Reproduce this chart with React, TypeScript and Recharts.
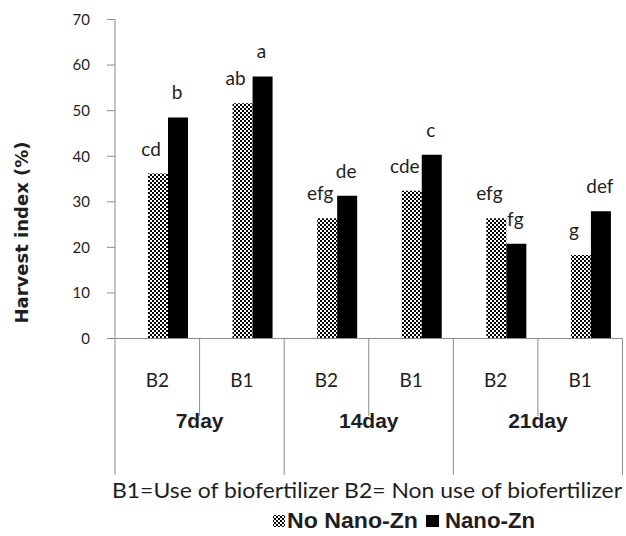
import React from 'react';
import { BarChart, Bar, XAxis, YAxis, LabelList } from 'recharts';

const treatments = ['B2', 'B1', 'B2', 'B1', 'B2', 'B1'];
const periods = ['7day', '14day', '21day'];
const noNanoZn = [36.2, 51.6, 26.4, 32.4, 26.4, 18.3];
const nanoZn = [48.5, 57.5, 31.3, 40.3, 20.8, 27.9];
const noNanoLetters = ['cd', 'ab', 'efg', 'cde', 'efg', 'g'];
const nanoLetters = ['b', 'a', 'de', 'c', 'fg', 'def'];
const yTicks = [0, 10, 20, 30, 40, 50, 60, 70];

const data = treatments.map((t, i) => ({
  key: `${periods[Math.floor(i / 2)]}-${t}`,
  treatment: t,
  period: periods[Math.floor(i / 2)],
  noNano: noNanoZn[i],
  nano: nanoZn[i],
  noNanoSig: noNanoLetters[i],
  nanoSig: nanoLetters[i],
}));

const W = 626;
const H = 536;
const MARGIN = { top: 19.5, right: 3.5, left: 55, bottom: 57.5 };
const Y_AXIS_W = 60;
const X_AXIS_H = 140;
const BAND = (W - MARGIN.left - MARGIN.right - Y_AXIS_W) / data.length;
const AXIS = '#8c8c8c';
const TEXT = '#1e1e1e';
const CALIBRI = 'Lato, "Open Sans", sans-serif';
const ARIAL = '"Liberation Sans", Arial, sans-serif';

// two-level category axis: B1/B2 plus day groups and the separator lines
function TreatmentTick(props: any) {
  const { x, y, payload } = props;
  const i = props.index ?? payload.index ?? 0;
  const row = data[i];
  const half = BAND / 2;
  const groupStart = i % 2 === 0;
  return (
    <g>
      <line x1={x - half} x2={x - half} y1={y} y2={y + (groupStart ? 136.5 : 77.5)} stroke={AXIS} />
      {i === data.length - 1 && (
        <line x1={x + half} x2={x + half} y1={y} y2={y + 136.5} stroke={AXIS} />
      )}
      <text x={x} y={y + 48.5} textAnchor="middle" fontFamily={CALIBRI} fontSize={19} fill={TEXT}>
        {row.treatment}
      </text>
      {!groupStart && (
        <text x={x - half} y={y + 89.5} textAnchor="middle" fontFamily={ARIAL} fontWeight="bold" fontSize={21} fill={TEXT}>
          {row.period}
        </text>
      )}
    </g>
  );
}

const sigLabel = (dx: number) => (props: any) => {
  const { x, y, width, value } = props;
  return (
    <text
      x={Number(x) + Number(width) / 2 + dx}
      y={Number(y) - 18}
      textAnchor="middle"
      fontFamily={CALIBRI}
      fontSize={19}
      fill={TEXT}
    >
      {value}
    </text>
  );
};

function Checker({ id }: { id: string }) {
  return (
    <pattern id={id} patternUnits="userSpaceOnUse" width={4} height={4}>
      <rect width={4} height={4} fill="#fff" />
      <rect width={2} height={2} fill="#000" />
      <rect x={2} y={2} width={2} height={2} fill="#000" />
    </pattern>
  );
}

export default function App() {
  return (
    <div style={{ position: 'absolute', left: 0, top: 0, width: W, height: H, background: '#fff' }}>
      <BarChart width={W} height={H} data={data} margin={MARGIN} barCategoryGap={13} barGap={0}>
        <defs>
          <Checker id="checker" />
        </defs>
        <XAxis
          dataKey="key"
          height={X_AXIS_H}
          interval={0}
          tickLine={false}
          tickSize={0}
          tickMargin={0}
          axisLine={{ stroke: AXIS }}
          tick={<TreatmentTick />}
        />
        <YAxis
          width={Y_AXIS_W}
          domain={[0, 70]}
          ticks={yTicks}
          interval={0}
          tickSize={8}
          tickMargin={17}
          axisLine={{ stroke: AXIS }}
          tickLine={{ stroke: AXIS }}
          tick={{ fontFamily: CALIBRI, fontSize: 15, fill: TEXT }}
          label={{
            content: () => (
              <text
                x={28}
                y={232.5}
                transform="rotate(-90, 28, 232.5)"
                textAnchor="middle"
                fontFamily='"DejaVu Sans", sans-serif'
                fontWeight="bold"
                fontSize={18}
                fill={TEXT}
              >
                Harvest index (%)
              </text>
            ),
          }}
        />
        {/* empty slot so the pair sits right of the category centre, as in the original */}
        <Bar dataKey="pad" fill="none" legendType="none" isAnimationActive={false} />
        <Bar dataKey="noNano" name="No Nano-Zn" fill="url(#checker)" isAnimationActive={false}>
          <LabelList dataKey="noNanoSig" content={sigLabel(-7)} />
        </Bar>
        <Bar dataKey="nano" name="Nano-Zn" fill="#000" isAnimationActive={false}>
          <LabelList dataKey="nanoSig" content={sigLabel(-1)} />
        </Bar>
      </BarChart>
      <svg width={W} height={H} style={{ position: 'absolute', left: 0, top: 0, pointerEvents: 'none' }}>
        <defs>
          <Checker id="checker-legend" />
        </defs>
        <text x={112} y={498} fontFamily={CALIBRI} fontSize={21} fill={TEXT} textLength={510} lengthAdjust="spacingAndGlyphs">
          B1=Use of biofertilizer B2= Non use of biofertilizer
        </text>
        <rect x={273} y={515} width={12} height={12} fill="url(#checker-legend)" />
        <text x={287} y={528} fontFamily={ARIAL} fontWeight="bold" fontSize={22} fill={TEXT} textLength={131} lengthAdjust="spacingAndGlyphs">
          No Nano-Zn
        </text>
        <rect x={426} y={515} width={13} height={12} fill="#000" />
        <text x={445} y={528} fontFamily={ARIAL} fontWeight="bold" fontSize={22} fill={TEXT} textLength={90} lengthAdjust="spacingAndGlyphs">
          Nano-Zn
        </text>
      </svg>
    </div>
  );
}
